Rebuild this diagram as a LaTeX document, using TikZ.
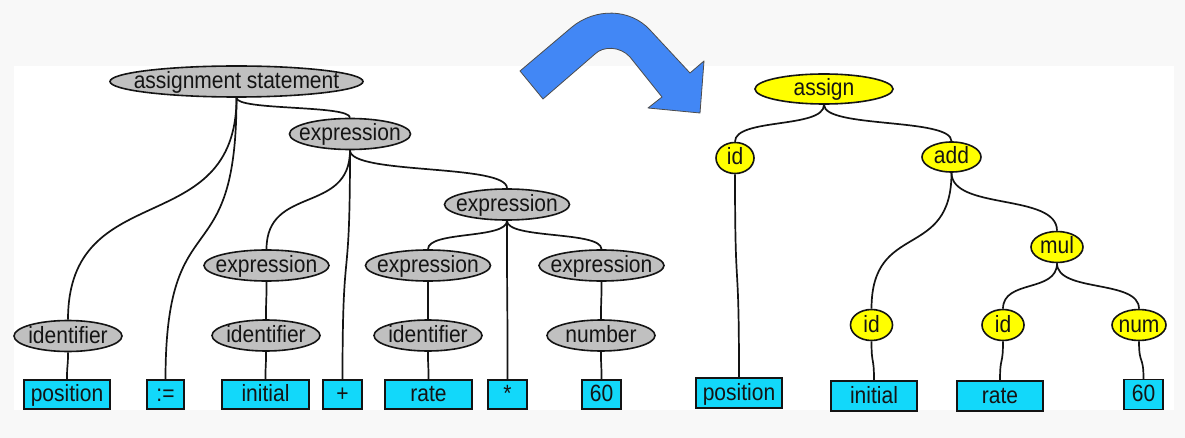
\documentclass[tikz,border=0pt]{standalone}
\usepackage{fontspec}
\usepackage{graphicx}
\setmainfont{Liberation Sans}
\usetikzlibrary{shapes.geometric,calc}
\definecolor{bggray}{RGB}{248,248,248}
\definecolor{ngray}{RGB}{192,192,192}
\definecolor{boxcyan}{RGB}{18,216,250}
\definecolor{arrblue}{RGB}{66,135,245}
\definecolor{ylw}{RGB}{255,255,0}
\definecolor{inkk}{RGB}{20,20,20}
\newcommand\tx[1]{\makebox[0pt]{\raisebox{-7pt}[0pt][0pt]{\scalebox{1}[1.12]{#1}}}}
\newcommand\conn[2]{\draw[connline] let \p1=(#1), \p2=(#2), \p3=($(\p1)!0.65!(\p2)$), \p4=($(\p2)!0.65!(\p1)$) in (\p1) .. controls (\x1,\y3) and (\x2,\y4) .. (\p2);}
\begin{document}
\begin{tikzpicture}[x=1pt,y=-1pt,
  gnode/.style={ellipse, draw=inkk, fill=ngray, line width=1.6pt, inner sep=0pt, minimum height=31pt, text=inkk, font=\fontsize{21}{24}\selectfont},
  ynode/.style={ellipse, draw=inkk, fill=ylw, line width=1.6pt, inner sep=0pt, minimum height=31pt, text=inkk, font=\fontsize{21}{24}\selectfont},
  leaf/.style={rectangle, draw=inkk, fill=boxcyan, line width=1.2pt, inner sep=0pt, minimum height=29pt, text=inkk, font=\fontsize{21}{24}\selectfont},
  connline/.style={draw=inkk, line width=1.7pt}]
\useasboundingbox (0,0) rectangle (1185,438);
\fill[bggray] (0,0) rectangle (1185,438);
\fill[white] (14,66) rectangle (1174,410);

% big arrow
\draw[fill=arrblue, draw=black!70, line width=0.8pt, line join=round]
  (520,71) -- (572,27) .. controls (595,8) and (630,8) .. (650,30) -- (690,73)
  -- (704,61) -- (700,113) -- (648,108) -- (662,97) -- (630,57)
  .. controls (620,46) and (603,46) .. (595,54) -- (543,99) -- cycle;

% left tree
\node[gnode, minimum width=253pt] (as) at (236.5,81.5) {\tx{assignment statement}};
\node[gnode, minimum width=121pt] (e1) at (350,134) {\tx{expression}};
\node[gnode, minimum width=125pt] (e2) at (507,204.5) {\tx{expression}};
\node[gnode, minimum width=125pt] (e3) at (266.5,265.5) {\tx{expression}};
\node[gnode, minimum width=125pt] (e4) at (428,265.5) {\tx{expression}};
\node[gnode, minimum width=125pt] (e5) at (601.5,265.5) {\tx{expression}};
\node[gnode, minimum width=108pt] (i1) at (68,336) {\tx{identifier}};
\node[gnode, minimum width=108pt] (i2) at (266,335.5) {\tx{identifier}};
\node[gnode, minimum width=108pt] (i3) at (428,335.5) {\tx{identifier}};
\node[gnode, minimum width=108pt] (nm) at (601,335.5) {\tx{number}};

\node[leaf, minimum width=86pt] (lpos) at (67,394.5) {\tx{position}};
\node[leaf, minimum width=37pt] (lass) at (165.5,394.5) {\tx{:=}};
\node[leaf, minimum width=87pt] (lini) at (265.5,394.5) {\tx{initial}};
\node[leaf, minimum width=39pt] (lplus) at (342.5,394.5) {\tx{+}};
\node[leaf, minimum width=87pt] (lrate) at (428.5,394.5) {\tx{rate}};
\node[leaf, minimum width=39pt] (lmul) at (507.5,394.5) {\tx{*}};
\node[leaf, minimum width=39pt] (l60) at (601.5,394.5) {\tx{60}};

\conn{as.south}{i1.north}
\conn{as.south}{lass.north}
\conn{as.south}{e1.north}
\conn{e1.south}{e3.north}
\conn{e1.south}{lplus.north}
\conn{e1.south}{e2.north}
\conn{e2.south}{e4.north}
\conn{e2.south}{lmul.north}
\conn{e2.south}{e5.north}
\conn{e3.south}{i2.north}
\conn{e4.south}{i3.north}
\conn{e5.south}{nm.north}
\conn{i1.south}{lpos.north}
\conn{i2.south}{lini.north}
\conn{i3.south}{lrate.north}
\conn{nm.south}{l60.north}

% right tree
\node[ynode, minimum width=138pt, minimum height=30pt] (asg) at (824,89) {\tx{assign}};
\node[ynode, minimum width=38pt] (rid1) at (735,158) {\tx{id}};
\node[ynode, minimum width=59pt, minimum height=30pt] (add) at (951.5,157) {\tx{add}};
\node[ynode, minimum width=52pt] (mul) at (1057,247) {\tx{mul}};
\node[ynode, minimum width=42pt] (rid2) at (871.5,325) {\tx{id}};
\node[ynode, minimum width=42pt] (rid3) at (1003,325) {\tx{id}};
\node[ynode, minimum width=54pt] (rnum) at (1139,325) {\tx{num}};

\node[leaf, minimum width=86pt, minimum height=30pt] (rpos) at (739,393) {\tx{position}};
\node[leaf, minimum width=86pt, minimum height=30pt] (rini) at (874,396) {\tx{initial}};
\node[leaf, minimum width=86pt, minimum height=30pt] (rrate) at (1000,396) {\tx{rate}};
\node[leaf, minimum width=39pt, minimum height=30pt] (r60) at (1143.5,394.5) {\tx{60}};

\conn{asg.south}{rid1.north}
\conn{asg.south}{add.north}
\conn{rid1.south}{rpos.north}
\conn{add.south}{rid2.north}
\conn{add.south}{mul.north}
\conn{mul.south}{rid3.north}
\conn{mul.south}{rnum.north}
\conn{rid2.south}{rini.north}
\conn{rid3.south}{rrate.north}
\conn{rnum.south}{r60.north}
\end{tikzpicture}
\end{document}
